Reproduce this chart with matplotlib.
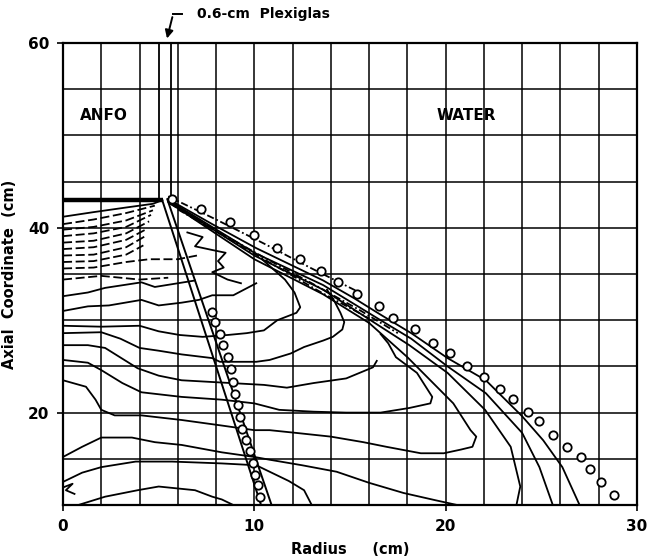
import matplotlib
matplotlib.use("Agg")
import matplotlib.pyplot as plt
import numpy as np

# ---------------- data (radius cm, axial cm) ----------------
x_ticks = [0, 10, 20, 30]
y_ticks = [20, 40, 60]
grid_r = [2, 4, 6, 8, 10, 12, 14, 16, 18, 20, 22, 24, 26, 28]
grid_z = [15, 20, 25, 30, 35, 40, 45, 50, 55]

# measured shock front in water (open circles)
shock_r = [5.70, 7.21, 8.73, 9.98, 11.19, 12.39, 13.49, 14.38, 15.37, 16.52, 17.25,
           18.40, 19.34, 20.23, 21.12, 22.01, 22.84, 23.52, 24.31, 24.88, 25.61,
           26.35, 27.08, 27.55, 28.12, 28.80]
shock_z = [43.1, 42.0, 40.6, 39.2, 37.8, 36.6, 35.3, 34.1, 32.8, 31.5, 30.2,
           29.0, 27.5, 26.4, 25.0, 23.9, 22.6, 21.5, 20.1, 19.1, 17.6,
           16.3, 15.2, 13.9, 12.5, 11.1]

# measured interface position (open circles)
iface_r = [7.79, 7.95, 8.21, 8.36, 8.63, 8.78, 8.89, 8.99, 9.15, 9.25, 9.36,
           9.57, 9.78, 9.93, 10.04, 10.19, 10.30]
iface_z = [30.9, 29.8, 28.5, 27.3, 26.0, 24.7, 23.3, 22.0, 20.8, 19.5, 18.2,
           17.0, 15.8, 14.5, 13.2, 12.2, 10.9]

# plexiglas walls
plexi_r = [5.0, 5.65]
plexi_z = [43.2, 60.0]

# detonation front (thick)
det_r = [0.0, 5.2]
det_z = [43.0, 43.0]

# computed interface lines
int1_r = [5.17, 10.35]; int1_z = [43.1, 10.0]
int2_r = [5.45, 10.9];  int2_z = [43.1, 10.0]

# ANFO fan contours (solid / dashed)
fan_solid = [
    ([0, 1.6, 3.3, 4.7, 5.2], [41.2, 41.7, 42.2, 42.6, 43.0]),
]
fan_dashed = [
    ([0, 1.6, 3.3, 4.8], [40.4, 40.9, 41.6, 42.4]),
    ([0, 1.6, 3.3, 4.7], [39.8, 40.1, 40.8, 41.9]),
    ([0, 1.6, 3.3, 4.6], [39.1, 39.4, 40.1, 41.4]),
    ([0, 1.6, 3.3, 4.5], [38.4, 38.6, 39.4, 40.7]),
    ([0, 1.6, 3.3, 4.4], [37.7, 37.9, 38.7, 39.9]),
    ([0, 1.6, 3.3, 4.3], [37.0, 37.1, 37.9, 39.1]),
    ([0, 1.6, 3.3, 4.2], [36.3, 36.4, 37.1, 38.1]),
    ([0, 1.6, 3.3, 4.5, 6.0, 7.0], [35.6, 35.7, 36.3, 36.6, 36.6, 37.0]),
    ([0, 2.0, 4.0, 5.5], [34.4, 34.8, 34.4, 34.6]),
]

# solid contour lines (left -> right)
contours = [
    ([0, 1.3, 2.2, 4.1, 4.8, 6.0, 6.9],
     [32.6, 33.0, 33.5, 34.1, 33.6, 34.0, 34.3]),
    ([0, 1.3, 2.4, 4.1, 5.0, 6.2, 7.1, 7.8, 8.9, 10.1],
     [31.0, 31.5, 31.6, 32.2, 31.6, 31.9, 32.2, 32.7, 32.7, 34.0]),
    ([0, 2.0, 4.0, 5.0, 6.1, 7.3, 8.6, 9.6, 10.5, 11.2, 12.2, 12.4, 12.1, 11.6, 11.0, 10.4],
     [29.4, 29.3, 29.4, 28.8, 28.4, 28.2, 28.4, 28.6, 28.9, 30.0, 30.8, 31.4, 33.0, 34.4, 35.5, 36.6]),
    ([0, 2.0, 3.0, 4.0, 5.0, 6.2, 7.8, 8.2, 10.1, 10.8, 11.9, 12.6, 13.6, 14.1, 14.6, 14.7, 14.5, 14.2, 13.8],
     [28.6, 28.7, 28.0, 27.0, 26.7, 26.3, 25.9, 25.5, 25.5, 25.7, 26.4, 27.1, 27.8, 28.2, 29.0, 29.8, 30.8, 32.0, 33.3]),
    ([0, 1.3, 2.2, 3.9, 5.0, 6.2, 7.9, 10.5, 11.7, 13.1, 14.8, 16.2, 16.4],
     [27.3, 27.3, 27.0, 24.8, 24.0, 23.5, 23.3, 23.0, 22.7, 23.2, 23.7, 24.9, 25.6]),
    ([0, 1.3, 2.0, 3.1, 4.1, 6.2, 8.3, 10.0, 11.3, 13.1, 14.8, 16.6, 18.1, 19.2, 19.3, 18.5, 17.4, 17.0, 16.6],
     [25.7, 25.4, 24.6, 23.2, 22.2, 21.7, 21.4, 21.0, 20.3, 20.1, 20.0, 20.0, 20.5, 21.0, 21.7, 24.3, 26.0, 27.5, 28.5]),
    ([0, 1.2, 1.7, 2.0, 2.7, 4.1, 6.2, 8.3, 10.0, 10.8, 12.2, 14.0, 15.7, 16.9, 18.7, 19.9, 20.8,
      21.4, 21.6, 21.3, 20.4, 19.2, 18.0, 16.0],
     [23.5, 22.8, 21.4, 20.3, 19.7, 19.7, 19.2, 18.6, 18.1, 18.1, 17.8, 17.4, 16.8, 16.3, 15.6, 15.6, 16.0,
      16.3, 17.4, 18.1, 21.0, 23.5, 26.0, 29.7]),
    ([0, 1.0, 2.0, 3.6, 4.8, 6.2, 8.3, 10.0, 10.8, 12.5, 14.3, 16.0, 17.8, 19.5, 20.6],
     [15.2, 16.3, 17.3, 17.3, 16.8, 16.5, 15.7, 15.2, 14.9, 14.3, 13.6, 12.4, 11.3, 10.5, 10.0]),
    ([0, 1.0, 2.0, 3.8, 5.7, 8.3, 10.1, 10.8, 11.8, 12.6, 13.0],
     [12.5, 13.5, 14.1, 14.7, 14.7, 14.5, 14.3, 13.6, 12.6, 11.6, 10.0]),
    ([0.8, 2.2, 3.9, 5.0, 6.9, 7.8, 8.3, 8.9],
     [10.0, 10.9, 11.6, 12.0, 11.6, 10.9, 10.6, 10.0]),
    # wiggly contour near the interface
    ([6.5, 7.3, 6.9, 7.8, 8.5, 8.1, 8.4, 7.8, 8.6, 9.3],
     [39.5, 39.0, 38.0, 37.6, 37.3, 36.4, 35.7, 35.2, 34.4, 34.0]),
    # zig-zag at axis
    ([0, 0.5, 0.15, 0.6], [11.9, 12.3, 11.6, 11.2]),
]

# shock bundle in water
bundle_solid = [
    ([5.5, 7.8, 10.1, 11.9, 13.6, 15.2, 16.6, 18.2, 20.1, 22.1, 24.0, 25.1, 26.1, 27.0],
     [43.1, 40.4, 37.8, 36.0, 34.3, 32.4, 30.6, 28.6, 25.9, 23.5, 19.6, 17.0, 14.1, 10.0]),
    ([5.5, 10.0, 13.6, 16.6, 18.2, 20.1, 22.1, 24.0, 24.9, 25.6],
     [43.0, 37.3, 33.8, 30.0, 28.0, 25.0, 22.1, 17.8, 14.1, 10.0]),
    ([5.5, 10.0, 13.6, 16.6, 18.1, 20.1, 22.06, 23.4, 23.9, 23.7],
     [42.9, 37.0, 33.3, 29.3, 27.3, 24.3, 20.3, 16.3, 12.0, 10.0]),
    ([5.5, 10.0, 13.6, 16.0], [42.8, 36.6, 32.8, 29.7]),
]
bundle_dashed = [
    ([5.5, 8.0, 10.5, 13.0, 15.5], [43.4, 40.9, 38.3, 35.6, 33.0]),
    ([5.6, 8.0, 10.5, 13.0, 15.5, 17.5], [42.6, 39.7, 36.8, 34.0, 31.1, 28.6]),
    ([6.0, 8.5, 11.0, 13.5, 16.0], [42.0, 39.0, 36.0, 33.0, 30.2]),
]

# ---------------- figure ----------------
fig = plt.figure(figsize=(6.47, 5.59), dpi=100)
ax = fig.add_axes([0.0974, 0.0966, 0.8871, 0.8264])
ax.set_xlim(0, 30)
ax.set_ylim(10, 60)

k = "black"
for r in grid_r:
    ax.axvline(r, color=k, lw=1.1, zorder=1)
for z in grid_z:
    ax.axhline(z, color=k, lw=1.1, zorder=1)

lw = 1.3
for rr, zz in fan_solid:
    ax.plot(rr, zz, color=k, lw=lw)
for rr, zz in fan_dashed:
    ax.plot(rr, zz, color=k, lw=lw, ls=(0, (5, 2)))
for rr, zz in contours:
    ax.plot(rr, zz, color=k, lw=lw)
for rr, zz in bundle_solid:
    ax.plot(rr, zz, color=k, lw=lw)
for rr, zz in bundle_dashed:
    ax.plot(rr, zz, color=k, lw=lw, ls=(0, (4, 1.5, 1, 1.5)))

ax.plot(det_r, det_z, color=k, lw=3.2, solid_capstyle="butt")
for r in plexi_r:
    ax.plot([r, r], plexi_z, color=k, lw=1.3)
ax.plot(int1_r, int1_z, color=k, lw=1.4)
ax.plot(int2_r, int2_z, color=k, lw=1.4)

ax.plot(shock_r, shock_z, ls="none", marker="o", ms=6, mfc="white", mec=k, mew=1.3, clip_on=False)
ax.plot(iface_r, iface_z, ls="none", marker="o", ms=6, mfc="white", mec=k, mew=1.3, clip_on=False)

for s in ax.spines.values():
    s.set_linewidth(1.6)

ax.set_xticks(x_ticks)
ax.set_yticks(y_ticks)
ax.tick_params(direction="out", length=4, width=1.2, labelsize=11, pad=6)
for t in ax.get_xticklabels() + ax.get_yticklabels():
    t.set_fontweight("bold")
ax.set_xlabel("Radius     (cm)", fontsize=10.5, fontweight="bold", labelpad=6)
ax.set_ylabel("Axial  Coordinate  (cm)", fontsize=10.5, fontweight="bold", labelpad=8)

ax.text(0.9, 52.2, "ANFO", fontsize=11, fontweight="bold", va="center", ha="left")
ax.text(19.5, 52.2, "WATER", fontsize=11, fontweight="bold", va="center", ha="left")

ax.annotate("", xy=(5.4, 60.2), xytext=(5.75, 63.1),
            arrowprops=dict(arrowstyle="-|>", color=k, lw=1.4, mutation_scale=12),
            annotation_clip=False)
ax.plot([5.75, 6.2], [63.1, 63.1], color=k, lw=1.4, clip_on=False)
ax.text(7.0, 63.1, "0.6-cm  Plexiglas", fontsize=10, fontweight="bold", va="center", ha="left")

fig.savefig("out.png", dpi=100)
